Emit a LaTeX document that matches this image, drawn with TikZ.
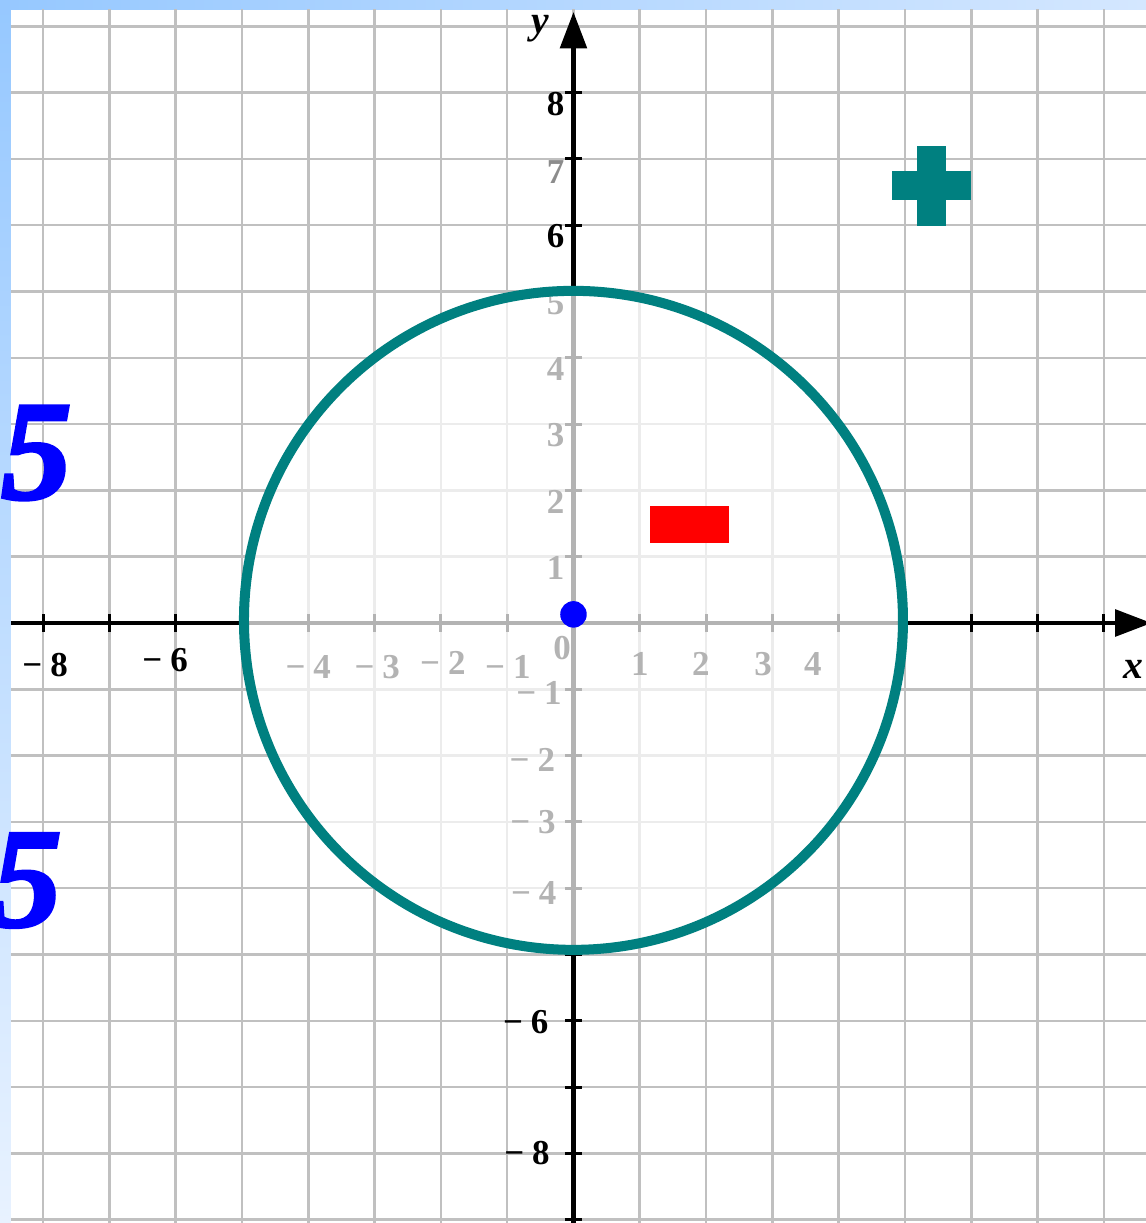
\documentclass[tikz,border=0pt]{standalone}
\usepackage{fontspec}
\setmainfont{Liberation Serif}
\newfontface\fivefont{Liberation Serif Bold Italic}[FakeBold=2]
\usetikzlibrary{arrows.meta}

\definecolor{ringteal}{RGB}{0,128,128}
\definecolor{gridgray}{RGB}{192,192,192}
\definecolor{stripeblue}{RGB}{150,200,255}
\definecolor{stripepale}{RGB}{232,242,255}
\definecolor{stripetop}{RGB}{212,231,255}

\tikzset{
    gridline/.style={gridgray, line width=1.1pt},
    axisline/.style={black, line width=1.8pt},
    tickmark/.style={black, line width=1.3pt},
    ticklabel/.style={inner sep=0pt, font=\fontsize{15}{15}\selectfont\bfseries},
    axisletter/.style={inner sep=0pt, font=\fontsize{17}{17}\selectfont\bfseries\itshape},
    bigfive/.style={inner sep=0pt, blue, font=\fontsize{61}{61}\fivefont}
}

\begin{document}
\begin{tikzpicture}
                    \useasboundingbox (-8.65,-9.05) rectangle (8.635,9.397);
                    \fill[white] (-8.65,-9.05) rectangle (8.635,9.397);
                    \shade[top color=stripeblue, bottom color=stripepale] (-8.65,-9.05) rectangle (-8.484,9.397);
                    \shade[left color=stripeblue, right color=stripetop] (-8.65,9.261) rectangle (8.635,9.397);

                    \begin{scope}
                        \clip (-8.484,-9.05) rectangle (8.635,9.261);
                        \foreach \k in {-8,...,8}
                            \draw[gridline] (\k,-9.05) -- (\k,9.261);
                        \foreach \k in {-9,...,9}
                            \draw[gridline] (-8.484,\k) -- (8.635,\k);
                    \end{scope}

                    \draw[axisline, -{Triangle[length=0.55cm, width=0.4cm]}] (-8.484,0) -- (8.72,0);
                    \draw[axisline, -{Triangle[length=0.55cm, width=0.4cm]}] (0,-9.05) -- (0,9.216);
                    \foreach \k in {-8,...,8}
                        \draw[tickmark] (\k,-0.13) -- (\k,0.13);
                    \foreach \k in {-9,...,8}
                        \draw[tickmark] (-0.13,\k) -- (0.13,\k);

                    \node[ticklabel] (xm8) at (-7.97,-0.63) {−\hspace{0.12cm}8};
                    \node[ticklabel] (xm6) at (-6.16,-0.56) {−\hspace{0.12cm}6};
                    \node[ticklabel] (xm4) at (-4.0,-0.66) {−\hspace{0.12cm}4};
                    \node[ticklabel] (xm3) at (-2.96,-0.66) {−\hspace{0.12cm}3};
                    \node[ticklabel] (xm2) at (-1.97,-0.6) {−\hspace{0.12cm}2};
                    \node[ticklabel] (xm1) at (-0.99,-0.66) {−\hspace{0.12cm}1};
                    \node[ticklabel] (zero) at (-0.17,-0.38) {0};
                    \node[ticklabel] (xp1) at (1.0,-0.62) {1};
                    \node[ticklabel] (xp2) at (1.92,-0.62) {2};
                    \node[ticklabel] (xp3) at (2.86,-0.62) {3};
                    \node[ticklabel] (xp4) at (3.61,-0.62) {4};

                    \foreach \k in {1,...,6,8}
                        \node[ticklabel] (yp\k) at (-0.27,\k-0.17) {\k};
                    \node[ticklabel, black!45] (yp7) at (-0.27,6.8) {7};
                    \node[ticklabel] (ym1) at (-0.52,-1.06) {−\hspace{0.12cm}1};
                    \node[ticklabel] (ym2) at (-0.62,-2.07) {−\hspace{0.12cm}2};
                    \node[ticklabel] (ym3) at (-0.61,-3.01) {−\hspace{0.12cm}3};
                    \node[ticklabel] (ym4) at (-0.6,-4.07) {−\hspace{0.12cm}4};
                    \node[ticklabel] (ym6) at (-0.72,-6.02) {−\hspace{0.12cm}6};
                    \node[ticklabel] (ym8) at (-0.7,-8.0) {−\hspace{0.12cm}8};

                    \node[axisletter] (xname) at (8.45,-0.7) {x};
                    \node[axisletter] (yname) at (-0.505,8.96) {y};

                    \fill[white, opacity=0.7] (0,0.04) circle (4.97);
                    \draw[ringteal, line width=4.3pt] (0,0.04) circle (4.97);

                    \fill[blue] (0,0.13) circle (0.2);
                    \fill[red] (1.15,1.207) rectangle (2.35,1.765);
                    \fill[ringteal] (4.8,6.38) rectangle (6.0,6.82);
                    \fill[ringteal] (5.18,5.99) rectangle (5.62,7.19);

                    \node[bigfive] (fiveup) at (-8.1,2.564) {5};
                    \node[bigfive] (fivedown) at (-8.25,-3.884) {5};
                \end{tikzpicture}
\end{document}
